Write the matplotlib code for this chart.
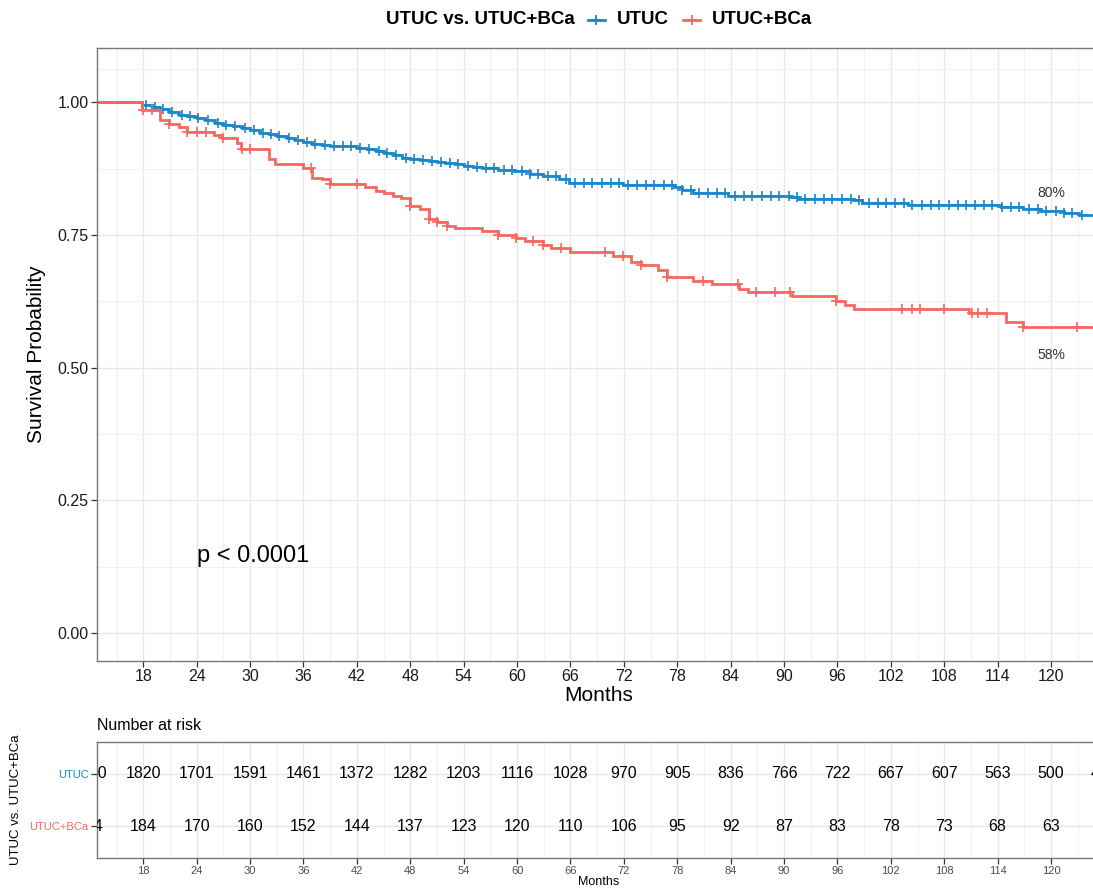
import numpy as np
import matplotlib
matplotlib.use("Agg")
import matplotlib.pyplot as plt
from matplotlib.lines import Line2D

plt.rcParams['font.family'] = ['Liberation Sans', 'DejaVu Sans']

# --- data ---
groups = ["UTUC", "UTUC+BCa"]
colors = ["#1B87C9", "#F4695F"]

# Kaplan-Meier steps (time in months, survival after the step)
utuc_t = [0, 17.85, 18.98, 19.9, 20.85, 21.97, 22.9, 24.03, 24.97, 26.1, 27.0, 28.1,
          29.1, 30.0, 31.1, 32.1, 33.0, 34.1, 35.1, 36.0, 36.95, 38.1, 39.0, 42.0,
          43.1, 44.1, 45.0, 46.1, 47.1, 48.0, 49.1, 50.1, 51.0, 51.95, 53.05, 54.0,
          55.1, 56.05, 57.9, 59.6, 61.4, 62.9, 64.7, 65.8, 71.9, 77.6, 78.5, 79.8,
          83.7, 90.7, 91.6, 97.7, 98.8, 103.9, 114.4, 116.8, 118.8, 121.4, 123.1]
utuc_s = [1.0, 0.996, 0.992, 0.987, 0.982, 0.977, 0.974, 0.970, 0.967, 0.962, 0.958, 0.955,
          0.952, 0.948, 0.943, 0.940, 0.936, 0.933, 0.930, 0.926, 0.922, 0.919, 0.917, 0.915,
          0.912, 0.909, 0.905, 0.900, 0.896, 0.894, 0.891, 0.889, 0.888, 0.885, 0.883, 0.881,
          0.878, 0.876, 0.873, 0.870, 0.866, 0.861, 0.856, 0.849, 0.844, 0.840, 0.835, 0.830,
          0.824, 0.821, 0.818, 0.816, 0.811, 0.806, 0.803, 0.799, 0.795, 0.792, 0.787]

bca_t = [0, 17.85, 19.9, 20.85, 21.97, 22.9, 25.9, 26.8, 28.5, 29.0, 32.1, 32.8, 36.0,
         36.95, 38.1, 39.0, 42.9, 44.1, 45.0, 46.1, 47.0, 48.0, 49.1, 50.05, 51.0, 52.1,
         53.05, 56.05, 57.9, 59.85, 60.9, 62.9, 63.8, 65.9, 70.8, 72.8, 73.9, 75.8, 76.8,
         79.8, 81.9, 84.9, 85.9, 90.9, 95.8, 96.9, 97.9, 110.8, 114.9, 116.8]
bca_s = [1.0, 0.986, 0.967, 0.960, 0.954, 0.945, 0.938, 0.932, 0.923, 0.913, 0.894, 0.883, 0.877,
         0.858, 0.855, 0.847, 0.841, 0.834, 0.830, 0.824, 0.819, 0.804, 0.800, 0.781, 0.775, 0.768,
         0.763, 0.757, 0.751, 0.744, 0.738, 0.732, 0.725, 0.719, 0.711, 0.699, 0.693, 0.685, 0.671,
         0.663, 0.657, 0.648, 0.642, 0.635, 0.626, 0.618, 0.611, 0.604, 0.586, 0.576]

# censoring times
utuc_cens = [18.3, 19.3, 20.2, 21.2, 22.3, 23.3, 24.2, 25.3, 26.4, 27.3, 28.3, 29.4, 30.4,
             31.4, 32.4, 33.3, 34.4, 35.4, 36.4, 37.3, 38.4, 39.4, 40.4, 41.3, 42.4, 43.4,
             44.5, 45.4, 46.4, 47.5, 48.4, 49.4, 50.4, 51.4, 52.5, 53.4, 54.5, 55.5, 56.5,
             57.4, 58.5, 59.4, 60.5, 61.5, 62.4, 63.5, 64.4, 65.5, 66.5, 67.5, 68.4, 69.5,
             70.5, 71.4, 72.5, 73.5, 74.5, 75.4, 76.5, 77.4, 78.5, 79.5, 80.4, 81.5, 82.5,
             83.4, 84.5, 85.5, 86.4, 87.5, 88.5, 89.4, 90.5, 91.5, 92.4, 93.5, 94.5, 95.4,
             96.5, 97.5, 98.4, 99.5, 100.5, 101.4, 102.5, 103.5, 104.4, 105.5, 106.5, 107.4,
             108.5, 109.5, 110.4, 111.5, 112.5, 113.4, 114.5, 115.5, 116.4, 117.5, 118.5,
             119.4, 120.5, 121.5, 122.4, 123.5]
bca_cens = [18.0, 19.0, 20.85, 22.9, 24.0, 25.0, 27.0, 29.1, 30.0, 36.8, 39.0, 42.0, 48.0,
            50.05, 51.0, 52.1, 57.9, 59.85, 61.8, 62.9, 64.9, 69.9, 71.9, 73.9, 76.9, 80.9,
            84.8, 86.8, 89.0, 90.7, 95.8, 103.3, 104.4, 105.3, 108.0, 111.1, 111.8, 112.8,
            116.8, 122.9]

end_labels = ["80%", "58%"]
p_text = "p < 0.0001"

# number at risk
risk_times = [12, 18, 24, 30, 36, 42, 48, 54, 60, 66, 72, 78, 84, 90, 96, 102, 108, 114, 120, 126]
risk_utuc = [1940, 1820, 1701, 1591, 1461, 1372, 1282, 1203, 1116, 1028, 970, 905, 836, 766,
             722, 667, 607, 563, 500, 456]
risk_bca = [194, 184, 170, 160, 152, 144, 137, 123, 120, 110, 106, 95, 92, 87, 83, 78, 73,
            68, 63, 58]

xticks = [18, 24, 30, 36, 42, 48, 54, 60, 66, 72, 78, 84, 90, 96, 102, 108, 114, 120]
xlim = (12.8, 125.5)

W, H = 1093, 888
fig = plt.figure(figsize=(W / 100, H / 100), dpi=100)

def px(x0, y0, x1, y1):
    return [x0 / W, 1 - y1 / H, (x1 - x0) / W, (y1 - y0) / H]

GRID_MAJ = "#E8E8E8"
GRID_MIN = "#F0F0F0"
BORDER = "#777777"

def style_panel(ax):
    for sp in ax.spines.values():
        sp.set_color(BORDER)
        sp.set_linewidth(1.0)
    ax.set_axisbelow(True)
    ax.grid(True, which="major", color=GRID_MAJ, lw=1.0)
    ax.grid(True, which="minor", color=GRID_MIN, lw=0.8)
    ax.tick_params(which="major", length=4, width=0.9, color="#333333", pad=2)
    ax.tick_params(which="minor", length=0)

right_px = 97 + (xlim[1] - xlim[0]) * 8.9
minor_x = [x + 3 for x in [12] + xticks]

# --- survival panel ---
ax = fig.add_axes(px(97, 48, right_px, 661))
style_panel(ax)

def surv_at(t, times, surv):
    idx = np.searchsorted(times, t, side="right") - 1
    return np.asarray(surv)[idx]

series = [(utuc_t, utuc_s, utuc_cens), (bca_t, bca_s, bca_cens)]
for (t, s, c), col in zip(series, colors):
    ax.plot(t + [xlim[1] + 5], s + [s[-1]], drawstyle="steps-post", color=col, lw=2.0,
            solid_joinstyle="miter")
    ax.plot(c, surv_at(c, t, s), ls="none", marker="+", ms=6.5, mew=1.2, color=col)

ax.set_xlim(*xlim)
ax.set_ylim(-0.0525, 1.1025)
ax.set_xticks(xticks)
ax.set_xticks(minor_x, minor=True)
ax.set_yticks([0, 0.25, 0.5, 0.75, 1.0])
ax.set_yticklabels(["0.00", "0.25", "0.50", "0.75", "1.00"])
ax.set_yticks([0.125, 0.375, 0.625, 0.875, 1.0625], minor=True)
ax.tick_params(labelsize=11.5, labelcolor="#1a1a1a")
ax.set_xlabel("Months", fontsize=15, labelpad=1)
ax.set_ylabel("Survival Probability", fontsize=15, labelpad=8)

ends = [utuc_s[-1], bca_s[-1]]
offs = [16, -20]
for lab, y, o in zip(end_labels, ends, offs):
    ax.annotate(lab, (120, y), xytext=(0, o), textcoords="offset points",
                ha="center", va="center", fontsize=10, color="#333333")
ax.text(24, 0.146, p_text, fontsize=17, ha="left", va="center")

# --- legend on top ---
yl = 1 - 20 / H
fig.text(575 / W, yl, "UTUC vs. UTUC+BCa", ha="right", va="center",
         fontsize=13.5, fontweight="bold")
key_x = [(588, 605, 617), (683, 700, 712)]
for (k0, k1, tx), col, lab in zip(key_x, colors, groups):
    fig.add_artist(Line2D([k0 / W, k1 / W], [yl, yl], color=col, lw=2,
                          transform=fig.transFigure))
    fig.add_artist(Line2D([(k0 + k1) / 2 / W], [yl], marker="+", ms=7, mew=1.3,
                          color=col, transform=fig.transFigure))
    fig.text(tx / W, yl, lab, ha="left", va="center", fontsize=13.5, fontweight="bold")

# --- risk table ---
tab = fig.add_axes(px(97, 742, right_px, 858))
style_panel(tab)
tab.set_xlim(*xlim)
tab.set_ylim(0.4, 2.6)
tab.set_xticks(xticks)
tab.set_xticks(minor_x, minor=True)
tab.set_yticks([2, 1])
tab.set_yticklabels(groups)
for lbl, col in zip(tab.get_yticklabels(), colors):
    lbl.set_color(col)
tab.tick_params(axis="y", labelsize=8)
tab.tick_params(axis="x", labelsize=8, labelcolor="#4D4D4D")
for rows, yy in [(risk_utuc, 2), (risk_bca, 1)]:
    for t, n in zip(risk_times, rows):
        tab.text(t, yy, str(n), ha="center", va="center", fontsize=11.5, clip_on=True)
tab.set_xlabel("Months", fontsize=9, labelpad=0)
tab.set_ylabel("UTUC vs. UTUC+BCa", fontsize=9.5, labelpad=6)
tab.yaxis.set_label_coords(-75 / (right_px - 97), 0.5)
fig.text(97 / W, 1 - 725 / H, "Number at risk", ha="left", va="center", fontsize=11.5)

fig.savefig("out.png", dpi=100)
